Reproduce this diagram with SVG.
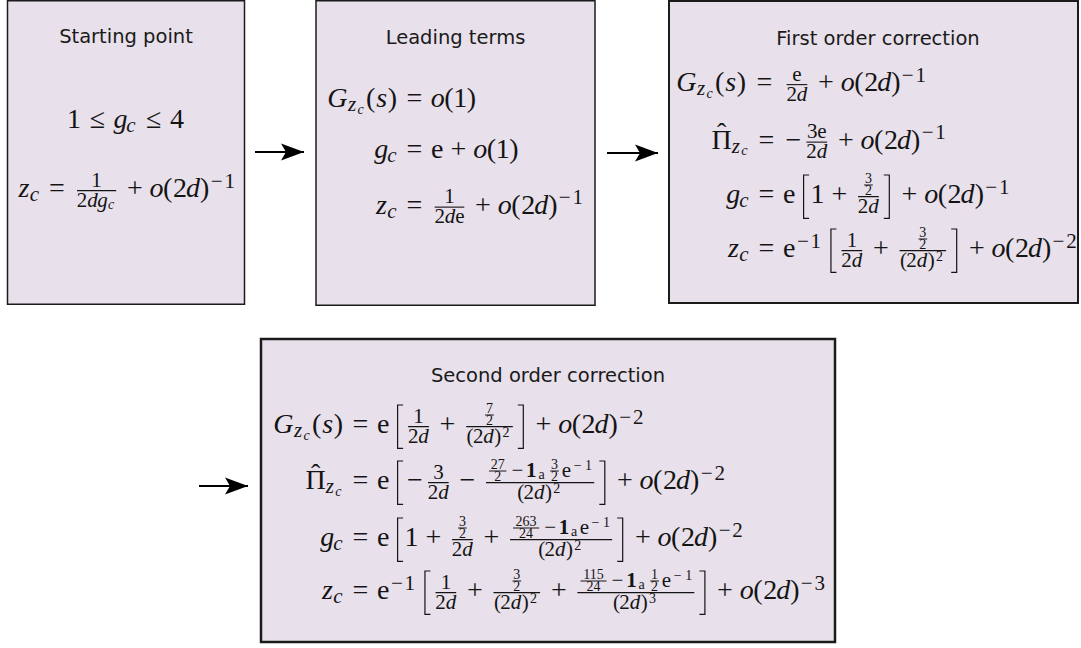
<svg xmlns="http://www.w3.org/2000/svg" width="1081" height="648" viewBox="0 0 1081 648">
<style>
.box{fill:#e8e0ea;stroke:#1b1b1b}
.t{font-family:"DejaVu Sans",sans-serif;font-size:19.5px;fill:#1a1a1a;text-anchor:middle}
.m{font-family:"Liberation Serif","Times New Roman",serif;fill:#141414;text-anchor:middle}
.a{font-size:28px}
.s{font-size:21px}
.ss{font-size:14px}
.it{font-style:italic}
.bf{font-weight:bold}
.ln{fill:none;stroke:#141414;stroke-width:1.1}
.br{fill:none;stroke:#141414;stroke-width:1.2}
.conn{stroke:#000;stroke-width:2;fill:none}
</style>
<defs>
<marker id="ah" markerUnits="userSpaceOnUse" markerWidth="24" markerHeight="20" viewBox="0 0 24 20" refX="23" refY="10" orient="auto">
<path d="M23,10 L0,1.5 L5,10 L0,18.5 Z" fill="#000"/>
</marker>
</defs>

<g id="connectors">
<line class="conn" x1="255" y1="152" x2="304" y2="152" marker-end="url(#ah)"/>
<line class="conn" x1="607" y1="153" x2="658" y2="153" marker-end="url(#ah)"/>
<line class="conn" x1="199" y1="486" x2="248" y2="486" marker-end="url(#ah)"/>
</g>

<g id="starting-point">
<rect class="box" x="7.5" y="0.75" width="237" height="303.5" stroke-width="1.5"/>
<text class="t" x="126" y="43">Starting point</text>
<g transform="translate(0,128)">
<text class="m"><tspan class="a" x="74" y="0">1</tspan><tspan class="a" x="97.4" y="0">≤</tspan><tspan class="a it" x="120.5" y="0">g</tspan><tspan class="s it" x="131" y="4">c</tspan><tspan class="a" x="153.7" y="0">≤</tspan><tspan class="a" x="177" y="0">4</tspan></text>
</g>
<g transform="translate(0,197)">
<text class="m"><tspan class="a it" x="23.9" y="0">z</tspan><tspan class="s it" x="34.3" y="4">c</tspan><tspan class="a" x="57" y="0">=</tspan><tspan class="s" x="96.6" y="-10.05">1</tspan><tspan class="s" x="82.1" y="9.5">2</tspan><tspan class="s it" x="92.5 102.6" y="9.5">dg</tspan><tspan class="ss it" x="111.2" y="12.2">c</tspan><tspan class="a" x="134.9" y="0">+</tspan><tspan class="a it" x="156.6" y="0">o</tspan><tspan class="a" x="167.7 180.1" y="0">(2</tspan><tspan class="a it" x="193.1" y="0">d</tspan><tspan class="a" x="204.7" y="0">)</tspan><tspan class="s" x="216.6 229.7" y="-9.3">−1</tspan></text>
<path class="ln" d="M77.05,-6.375H116.2"/>
</g>
</g>

<g id="leading-terms">
<rect class="box" x="316" y="0.75" width="279" height="304.5" stroke-width="1.5"/>
<text class="t" x="455.5" y="44">Leading terms</text>
<g transform="translate(0,107)">
<text class="m"><tspan class="a it" x="337.4" y="0">G</tspan><tspan class="s it" x="352.1" y="4">z</tspan><tspan class="ss it" x="360.6" y="6.5">c</tspan><tspan class="a" x="370.7" y="0">(</tspan><tspan class="a it" x="381.6" y="0">s</tspan><tspan class="a" x="392.5 414.5" y="0">)=</tspan><tspan class="a it" x="437.7" y="0">o</tspan><tspan class="a" x="448.8 460.2 471.5" y="0">(1)</tspan></text>
</g>
<g transform="translate(0,158)">
<text class="m"><tspan class="a it" x="381.3" y="0">g</tspan><tspan class="s it" x="391.8" y="4">c</tspan><tspan class="a" x="414.5 437.2 458.4" y="0">=e+</tspan><tspan class="a it" x="480.2" y="0">o</tspan><tspan class="a" x="491.3 502.7 514" y="0">(1)</tspan></text>
</g>
<g transform="translate(0,213.5)">
<text class="m"><tspan class="a it" x="381.5" y="0">z</tspan><tspan class="s it" x="391.8" y="4">c</tspan><tspan class="a" x="414.5" y="0">=</tspan><tspan class="s" x="449.4" y="-10.05">1</tspan><tspan class="s" x="439.7" y="9.5">2</tspan><tspan class="s it" x="450" y="9.5">d</tspan><tspan class="s" x="459.8" y="9.5">e</tspan><tspan class="a" x="483" y="0">+</tspan><tspan class="a it" x="504.7" y="0">o</tspan><tspan class="a" x="515.8 528.2" y="0">(2</tspan><tspan class="a it" x="541.2" y="0">d</tspan><tspan class="a" x="552.8" y="0">)</tspan><tspan class="s" x="564.7 577.8" y="-9.3">−1</tspan></text>
<path class="ln" d="M434.6,-6.375H464.3"/>
</g>
</g>

<g id="first-order-correction">
<rect class="box" x="669" y="1" width="409" height="302" stroke-width="2"/>
<text class="t" x="878" y="45">First order correction</text>
<g transform="translate(0,91)">
<text class="m"><tspan class="a it" x="686.4" y="0">G</tspan><tspan class="s it" x="701.1" y="4">z</tspan><tspan class="ss it" x="709.6" y="6.5">c</tspan><tspan class="a" x="719.7" y="0">(</tspan><tspan class="a it" x="730.6" y="0">s</tspan><tspan class="a" x="741.5 764.5" y="0">)=</tspan><tspan class="s" x="796.9" y="-10.05">e</tspan><tspan class="s" x="791.7" y="9.5">2</tspan><tspan class="s it" x="802" y="9.5">d</tspan><tspan class="a" x="825.9" y="0">+</tspan><tspan class="a it" x="847.7" y="0">o</tspan><tspan class="a" x="858.8 871.2" y="0">(2</tspan><tspan class="a it" x="884.2" y="0">d</tspan><tspan class="a" x="895.8" y="0">)</tspan><tspan class="s" x="907.7 920.8" y="-9.3">−1</tspan></text>
<path class="ln" d="M786.6,-6.375H807.3"/>
</g>
<g transform="translate(0,148.5)">
<text class="m"><tspan class="a" x="721.6" y="-6.5">ˆ</tspan><tspan class="a" x="721.6" y="0">Π</tspan><tspan class="s it" x="735.9" y="4">z</tspan><tspan class="ss it" x="744.4" y="6.5">c</tspan><tspan class="a" x="766.5 793.4" y="0">=−</tspan><tspan class="s" x="812.3 821.9" y="-10.05">3e</tspan><tspan class="s" x="811.5" y="9.5">2</tspan><tspan class="s it" x="821.9" y="9.5">d</tspan><tspan class="a" x="845.8" y="0">+</tspan><tspan class="a it" x="867.6" y="0">o</tspan><tspan class="a" x="878.7 891" y="0">(2</tspan><tspan class="a it" x="904" y="0">d</tspan><tspan class="a" x="915.6" y="0">)</tspan><tspan class="s" x="927.6 940.6" y="-9.3">−1</tspan></text>
<path class="ln" d="M806.4,-6.375H827.1"/>
</g>
<g transform="translate(0,203)">
<text class="m"><tspan class="a it" x="733.3" y="0">g</tspan><tspan class="s it" x="743.8" y="4">c</tspan><tspan class="a" x="766.5 789.2 817.5 839.4" y="0">=e1+</tspan><tspan class="ss" x="868.4" y="-19.8">3</tspan><tspan class="ss" x="868.4" y="-8">2</tspan><tspan class="s" x="863.1" y="9.5">2</tspan><tspan class="s it" x="873.5" y="9.5">d</tspan><tspan class="a" x="909.4" y="0">+</tspan><tspan class="a it" x="931.2" y="0">o</tspan><tspan class="a" x="942.3 954.6" y="0">(2</tspan><tspan class="a it" x="967.6" y="0">d</tspan><tspan class="a" x="979.3" y="0">)</tspan><tspan class="s" x="991.2 1004.2" y="-9.3">−1</tspan></text>
<path class="ln" d="M864.1,-18H872.8M858.05,-6.375H878.8"/>
<path class="br" d="M809.1,-28H803.6V15.3H809.1M883.8,-28H889.3V15.3H883.8"/>
</g>
<g transform="translate(0,257)">
<text class="m"><tspan class="a it" x="733.5" y="0">z</tspan><tspan class="s it" x="743.8" y="4">c</tspan><tspan class="a" x="766.5 789.2" y="0">=e</tspan><tspan class="s" x="802.8 815.8" y="-9.3">−1</tspan><tspan class="s" x="851.9" y="-10.05">1</tspan><tspan class="s" x="846.6" y="9.5">2</tspan><tspan class="s it" x="857" y="9.5">d</tspan><tspan class="a" x="880.9" y="0">+</tspan><tspan class="ss" x="922.8" y="-19.8">3</tspan><tspan class="ss" x="922.8" y="-8">2</tspan><tspan class="s" x="903.5 911.6" y="9.5">(2</tspan><tspan class="s it" x="921.9" y="9.5">d</tspan><tspan class="s" x="931.2" y="9.5">)</tspan><tspan class="ss" x="939.5" y="4.2">2</tspan><tspan class="a" x="976.8" y="0">+</tspan><tspan class="a it" x="998.5" y="0">o</tspan><tspan class="a" x="1009.7 1022" y="0">(2</tspan><tspan class="a it" x="1035" y="0">d</tspan><tspan class="a" x="1046.6" y="0">)</tspan><tspan class="s" x="1058.5 1071.6" y="-9.3">−2</tspan></text>
<path class="ln" d="M841.5,-6.375H862.2M918.5,-18H927.2M899.5,-6.375H946.1"/>
<path class="br" d="M836.45,-28H830.95V15.3H836.45M951.2,-28H956.7V15.3H951.2"/>
</g>
</g>

<g id="second-order-correction">
<rect class="box" x="261" y="339" width="574" height="303" stroke-width="2.5"/>
<text class="t" x="548" y="382">Second order correction</text>
<g transform="translate(0,433)">
<text class="m"><tspan class="a it" x="283.4" y="0">G</tspan><tspan class="s it" x="298.1" y="4">z</tspan><tspan class="ss it" x="306.6" y="6.5">c</tspan><tspan class="a" x="316.7" y="0">(</tspan><tspan class="a it" x="327.6" y="0">s</tspan><tspan class="a" x="338.5 360.5 383.2" y="0">)=e</tspan><tspan class="s" x="418.5" y="-10.05">1</tspan><tspan class="s" x="413.2" y="9.5">2</tspan><tspan class="s it" x="423.6" y="9.5">d</tspan><tspan class="a" x="447.5" y="0">+</tspan><tspan class="ss" x="489.5" y="-19.8">7</tspan><tspan class="ss" x="489.5" y="-8">2</tspan><tspan class="s" x="470.1 478.2" y="9.5">(2</tspan><tspan class="s it" x="488.6" y="9.5">d</tspan><tspan class="s" x="497.8" y="9.5">)</tspan><tspan class="ss" x="506.1" y="4.2">2</tspan><tspan class="a" x="543.4" y="0">+</tspan><tspan class="a it" x="565.2" y="0">o</tspan><tspan class="a" x="576.3 588.6" y="0">(2</tspan><tspan class="a it" x="601.6" y="0">d</tspan><tspan class="a" x="613.2" y="0">)</tspan><tspan class="s" x="625.2 638.2" y="-9.3">−2</tspan></text>
<path class="ln" d="M408.1,-6.375H428.9M485.1,-18H493.8M466.2,-6.375H512.8"/>
<path class="br" d="M403.1,-28H397.6V15.3H403.1M517.8,-28H523.3V15.3H517.8"/>
</g>
<g transform="translate(0,489)">
<text class="m"><tspan class="a" x="315.6" y="-6.5">ˆ</tspan><tspan class="a" x="315.6" y="0">Π</tspan><tspan class="s it" x="329.9" y="4">z</tspan><tspan class="ss it" x="338.4" y="6.5">c</tspan><tspan class="a" x="360.5 383.2 415" y="0">=e−</tspan><tspan class="s" x="438.4" y="-10.05">3</tspan><tspan class="s" x="433.1" y="9.5">2</tspan><tspan class="s it" x="443.4" y="9.5">d</tspan><tspan class="a" x="467.4" y="0">−</tspan><tspan class="ss" x="497.7" y="-19.8">27</tspan><tspan class="ss" x="497.7" y="-8">2</tspan><tspan class="s" x="517.4" y="-12.5">−</tspan><tspan class="s bf" x="531.3" y="-12.5">1</tspan><tspan class="ss" x="541.5" y="-10">a</tspan><tspan class="ss" x="554.5" y="-19.8">3</tspan><tspan class="ss" x="554.5" y="-8">2</tspan><tspan class="s" x="566.4" y="-12.5">e</tspan><tspan class="ss" x="577.6 588.6" y="-19.5">−1</tspan><tspan class="s" x="520.8 528.8" y="9.5">(2</tspan><tspan class="s it" x="539.2" y="9.5">d</tspan><tspan class="s" x="548.5" y="9.5">)</tspan><tspan class="ss" x="556.8" y="4.2">2</tspan><tspan class="a" x="624.8" y="0">+</tspan><tspan class="a it" x="646.6" y="0">o</tspan><tspan class="a" x="657.7 670.1" y="0">(2</tspan><tspan class="a it" x="683.1" y="0">d</tspan><tspan class="a" x="694.7" y="0">)</tspan><tspan class="s" x="706.6 719.7" y="-9.3">−2</tspan></text>
<path class="ln" d="M428,-6.375H448.7M489.05,-18H506.4M550.2,-18H558.85M486,-6.375H594.2"/>
<path class="br" d="M403.1,-28H397.6V15.3H403.1M599.3,-28H604.8V15.3H599.3"/>
</g>
<g transform="translate(0,546)">
<text class="m"><tspan class="a it" x="327.3" y="0">g</tspan><tspan class="s it" x="337.8" y="4">c</tspan><tspan class="a" x="360.5 383.2 411.5 433.4" y="0">=e1+</tspan><tspan class="ss" x="462.4" y="-19.8">3</tspan><tspan class="ss" x="462.4" y="-8">2</tspan><tspan class="s" x="457.1" y="9.5">2</tspan><tspan class="s it" x="467.5" y="9.5">d</tspan><tspan class="a" x="491.4" y="0">+</tspan><tspan class="ss" x="526.1" y="-19.8">263</tspan><tspan class="ss" x="526.1" y="-8">24</tspan><tspan class="s" x="550.2" y="-12.5">−</tspan><tspan class="s bf" x="564" y="-12.5">1</tspan><tspan class="ss" x="574.2" y="-10">a</tspan><tspan class="s" x="584.4" y="-12.5">e</tspan><tspan class="ss" x="595.5 606.5" y="-19.5">−1</tspan><tspan class="s" x="541.8 549.8" y="9.5">(2</tspan><tspan class="s it" x="560.2" y="9.5">d</tspan><tspan class="s" x="569.5" y="9.5">)</tspan><tspan class="ss" x="577.8" y="4.2">2</tspan><tspan class="a" x="642.8" y="0">+</tspan><tspan class="a it" x="664.6" y="0">o</tspan><tspan class="a" x="675.7 688" y="0">(2</tspan><tspan class="a it" x="701" y="0">d</tspan><tspan class="a" x="712.6" y="0">)</tspan><tspan class="s" x="724.6 737.6" y="-9.3">−2</tspan></text>
<path class="ln" d="M458.1,-18H466.8M452.05,-6.375H472.8M513.1,-18H539.2M510.06,-6.375H612.15"/>
<path class="br" d="M403.1,-28H397.6V15.3H403.1M617.2,-28H622.7V15.3H617.2"/>
</g>
<g transform="translate(0,599)">
<text class="m"><tspan class="a it" x="327.5" y="0">z</tspan><tspan class="s it" x="337.8" y="4">c</tspan><tspan class="a" x="360.5 383.2" y="0">=e</tspan><tspan class="s" x="396.8 409.8" y="-9.3">−1</tspan><tspan class="s" x="445.9" y="-10.05">1</tspan><tspan class="s" x="440.6" y="9.5">2</tspan><tspan class="s it" x="451" y="9.5">d</tspan><tspan class="a" x="474.9" y="0">+</tspan><tspan class="ss" x="516.8" y="-19.8">3</tspan><tspan class="ss" x="516.8" y="-8">2</tspan><tspan class="s" x="497.5 505.6" y="9.5">(2</tspan><tspan class="s it" x="515.9" y="9.5">d</tspan><tspan class="s" x="525.2" y="9.5">)</tspan><tspan class="ss" x="533.5" y="4.2">2</tspan><tspan class="a" x="558.8" y="0">+</tspan><tspan class="ss" x="593.5" y="-19.8">115</tspan><tspan class="ss" x="593.5" y="-8">24</tspan><tspan class="s" x="617.5" y="-12.5">−</tspan><tspan class="s bf" x="631.4" y="-12.5">1</tspan><tspan class="ss" x="641.6" y="-10">a</tspan><tspan class="ss" x="654.6" y="-19.8">1</tspan><tspan class="ss" x="654.6" y="-8">2</tspan><tspan class="s" x="666.5" y="-12.5">e</tspan><tspan class="ss" x="677.7 688.7" y="-19.5">−1</tspan><tspan class="s" x="616.5 624.6" y="9.5">(2</tspan><tspan class="s it" x="635" y="9.5">d</tspan><tspan class="s" x="644.2" y="9.5">)</tspan><tspan class="ss" x="652.6" y="4.2">3</tspan><tspan class="a" x="724.9" y="0">+</tspan><tspan class="a it" x="746.7" y="0">o</tspan><tspan class="a" x="757.8 770.2" y="0">(2</tspan><tspan class="a it" x="783.2" y="0">d</tspan><tspan class="a" x="794.8" y="0">)</tspan><tspan class="s" x="806.7 819.8" y="-9.3">−3</tspan></text>
<path class="ln" d="M435.5,-6.375H456.2M512.5,-18H521.2M493.5,-6.375H540.1M580.5,-18H606.5M650.3,-18H658.95M577.4,-6.375H694.3"/>
<path class="br" d="M430.45,-28H424.95V15.3H430.45M699.4,-28H704.9V15.3H699.4"/>
</g>
</g>
</svg>
